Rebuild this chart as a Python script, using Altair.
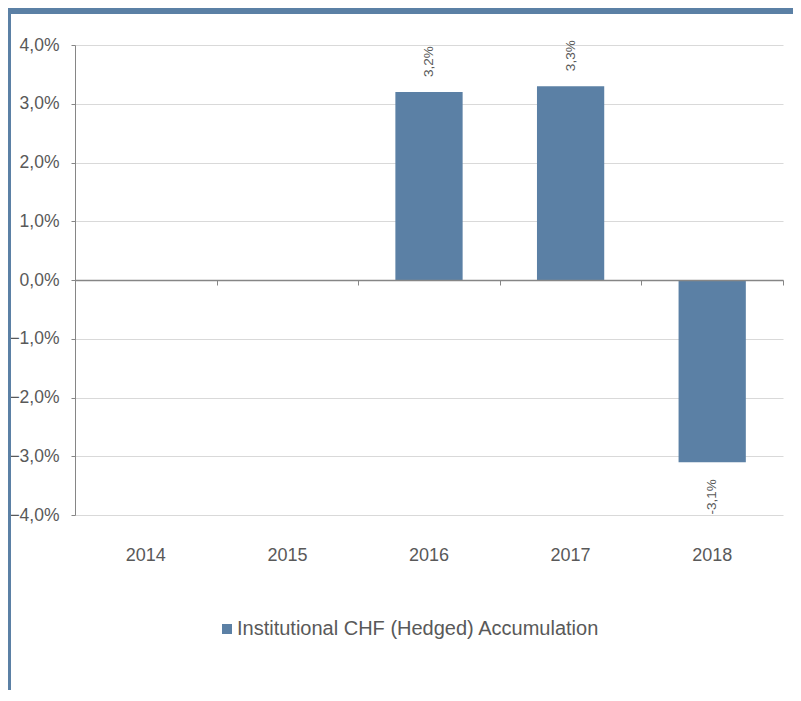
import altair as alt
import pandas as pd

years = ["2014", "2015", "2016", "2017", "2018"]
returns = [None, None, 3.2, 3.3, -3.1]
labels = ["", "", "3,2%", "3,3%", "-3,1%"]
series_name = "Institutional CHF (Hedged) Accumulation"
y_ticks = [-4, -3, -2, -1, 0, 1, 2, 3, 4]

df = pd.DataFrame({
    "year": years,
    "value": returns,
    "label": labels,
    "series": [series_name] * len(years),
})
frame = pd.DataFrame({"k": [0]})

BLUE = "#5b80a5"
TEXT = "#595959"
AXIS = "#868686"
GRID = "#d9d9d9"
FONT = "Liberation Sans"

W, H = 708, 470

xscale = alt.Scale(domain=years, paddingInner=0, paddingOuter=0)
yscale = alt.Scale(domain=[-4, 4], nice=False, zero=False)

x_bottom = alt.X(
    "year:N", scale=xscale, sort=years,
    axis=alt.Axis(title=None, domain=False, ticks=False, tickSize=0, labelPadding=31,
                  labelFontSize=18, labelColor=TEXT, labelFont=FONT, labelAngle=0, grid=False),
)
y_enc = alt.Y(
    "value:Q", scale=yscale,
    axis=alt.Axis(title=None, values=y_ticks,
                  labelExpr="replace(format(datum.value, '.1f'), '.', ',') + '%'",
                  labelFontSize=17.5, labelColor=TEXT, labelFont=FONT, labelPadding=12,
                  domain=True, domainColor=AXIS, domainWidth=1,
                  ticks=True, tickSize=4, tickColor=AXIS,
                  grid=True, gridColor=GRID, gridWidth=1),
)

bars = alt.Chart(df).mark_bar(color=BLUE, width=alt.RelativeBandSize(0.475)).encode(
    x=x_bottom,
    y=y_enc,
    color=alt.Color(
        "series:N", scale=alt.Scale(range=[BLUE]),
        legend=alt.Legend(title=None, orient="none", legendX=142, legendY=574,
                          symbolType="square", symbolSize=100, symbolStrokeWidth=0,
                          labelFontSize=20, labelColor=TEXT, labelFont=FONT,
                          labelOffset=0, padding=0, labelLimit=0),
    ),
)

zero_axis = alt.Chart(df).mark_point(opacity=0).encode(
    x=alt.X("year:N", scale=xscale, sort=years,
            axis=alt.Axis(title=None, orient="bottom", offset=-H / 2, labels=False,
                          domain=True, domainColor=AXIS, domainWidth=1.3,
                          ticks=True, tickBand="extent", tickSize=5, tickColor=AXIS,
                          grid=False, zindex=1)),
)

x_plain = alt.X("year:N", scale=xscale, sort=years, axis=None)

pos_text = alt.Chart(df).transform_filter("datum.value > 0").mark_text(
    angle=270, align="left", baseline="middle", dx=15, fontSize=13.5, color=TEXT, font=FONT
).encode(x=x_plain, y=alt.Y("value:Q", scale=yscale), text="label:N")

neg_text = alt.Chart(df).transform_filter("datum.value < 0").mark_text(
    angle=270, align="right", baseline="middle", dx=-17, fontSize=13.5, color=TEXT, font=FONT
).encode(x=x_plain, y=alt.Y("value:Q", scale=yscale), text="label:N")

top_band = alt.Chart(frame).mark_rule(color=BLUE, strokeWidth=6).encode(
    x=alt.value(-67), x2=alt.value(718), y=alt.value(-34)
)
left_line = alt.Chart(frame).mark_rule(color=BLUE, strokeWidth=3).encode(
    x=alt.value(-65.5), y=alt.value(-37), y2=alt.value(645)
)

chart = alt.layer(bars, zero_axis, pos_text, neg_text, top_band, left_line).resolve_axis(
    x="independent"
).properties(
    width=W, height=H,
    autosize=alt.AutoSizeParams(type="none"),
    padding={"left": 67, "top": 37, "right": 10, "bottom": 175},
    background="white",
).configure_view(stroke=None)

chart.save("out.html", embed_options={"renderer": "svg", "actions": False})
